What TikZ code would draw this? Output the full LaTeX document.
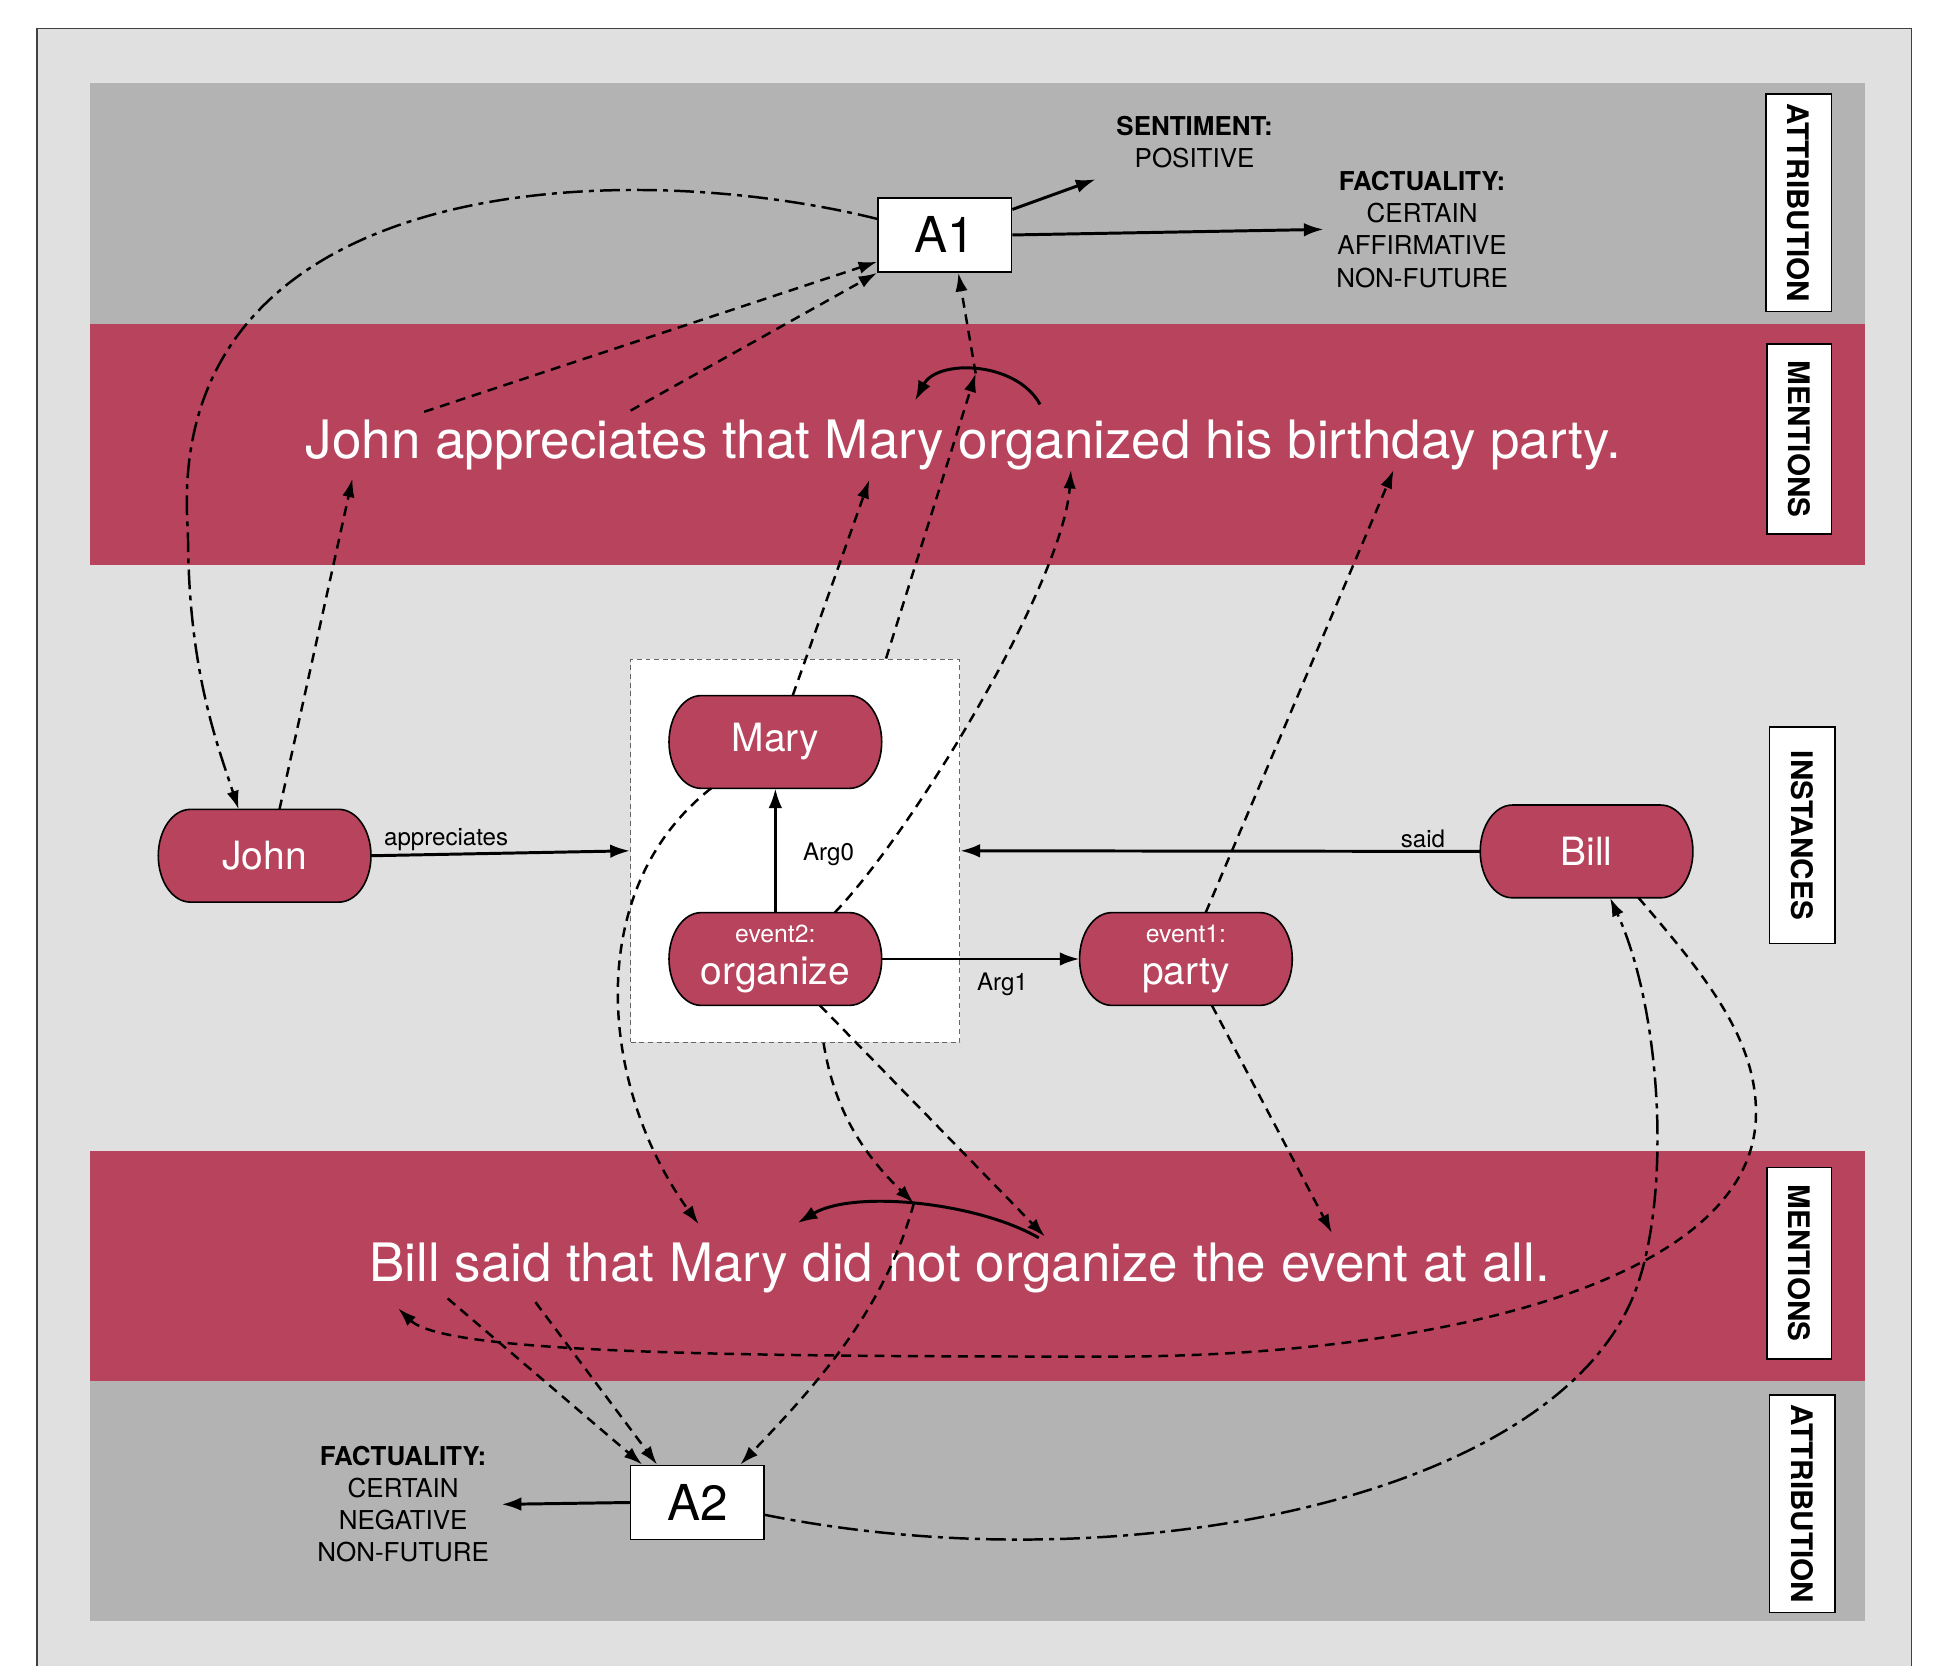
\documentclass[tikz,border=0pt]{standalone}
\usepackage{fontspec}
\setmainfont{TeX Gyre Heros}
\usetikzlibrary{arrows.meta,calc}
\definecolor{crim}{HTML}{B7435C}
\definecolor{lgray}{HTML}{E0E0E0}
\definecolor{dgray}{HTML}{B3B3B3}
\tikzset{
  inst/.style={minimum width=176pt, minimum height=79pt, inner sep=0pt, outer sep=-2pt,
    text=white, align=center, font=\fontsize{31.5}{34}\selectfont,
    path picture={\filldraw[fill=crim, draw=black, line width=1.3pt]
      ($(path picture bounding box.center)+(-60pt,37.5pt)$) -- ++(120pt,0pt)
      arc[start angle=90, end angle=-90, x radius=26pt, y radius=37.5pt]
      -- ++(-120pt,0pt)
      arc[start angle=270, end angle=90, x radius=26pt, y radius=37.5pt] -- cycle;}},
  attbox/.style={draw=black, line width=1.3pt, fill=white, minimum width=108pt,
    minimum height=60pt, inner sep=0pt, font=\fontsize{40}{44}\selectfont},
  sidelabel/.style={draw=black, line width=1.3pt, fill=white, rotate=-90, inner sep=0pt,
    font=\bfseries\fontsize{24}{28}\selectfont},
  grpbox/.style={draw=black!60, line width=1pt, dash pattern=on 4pt off 3pt, fill=white,
    minimum width=266pt, minimum height=310pt, inner sep=0pt},
  arr/.style={-{Latex[length=16pt,width=11pt]}, line width=2.4pt},
  dsh/.style={-{Latex[length=15pt,width=10pt]}, line width=2pt, dash pattern=on 8pt off 5.5pt},
  dd/.style={-{Latex[length=15pt,width=10pt]}, line width=2pt, dash pattern=on 16pt off 5pt on 4pt off 5pt},
  lbl/.style={font=\fontsize{19.5}{22}\selectfont, text=black, inner sep=2pt},
  props/.style={align=center, font=\fontsize{21}{26}\selectfont, inner sep=0pt},
  sent/.style={text=white, font=\fontsize{42.8}{48}\selectfont, inner sep=0pt}
}
\begin{document}
\begin{tikzpicture}[x=1pt,y=-1pt]
\useasboundingbox (0,0) rectangle (1568,1347);
\fill[white] (0,0) rectangle (1568,1347);
\fill[lgray] (30,23) rectangle (1546,1347);
\draw[line width=1pt, black!75] (30,1347) -- (30,23) -- (1546,23) -- (1546,1347);
% bands
\fill[dgray] (73,67) rectangle (1508,262);
\fill[crim] (73,262) rectangle (1508,457);
\fill[crim] (73,931) rectangle (1508,1117);
\fill[dgray] (73,1117) rectangle (1508,1311);
% side labels
\node[sidelabel, minimum width=176pt, minimum height=53pt] (labAttrTop) at (1454.5,164) {ATTRIBUTION};
\node[sidelabel, minimum width=154pt, minimum height=52pt] (labMentTop) at (1455,355) {MENTIONS};
\node[sidelabel, minimum width=175pt, minimum height=53pt] (labInst) at (1457.5,675.5) {INSTANCES};
\node[sidelabel, minimum width=155pt, minimum height=52pt] (labMentBot) at (1455,1021.5) {MENTIONS};
\node[sidelabel, minimum width=176pt, minimum height=53pt] (labAttrBot) at (1457.5,1216) {ATTRIBUTION};
% sentences
\node[sent, anchor=base] (sent1) at (779,371) {John appreciates that Mary organized his birthday party.};
\node[sent, anchor=base] (sent2) at (776,1036) {Bill said that Mary did not organize the event at all.};
% attribution boxes and properties
\node[attbox] (A1) at (764,190) {A1};
\node[attbox] (A2) at (564,1215) {A2};
\node[props] (sentiment) at (966,115) {\textbf{SENTIMENT:}\\POSITIVE};
\node[props] (fact1) at (1150,185.5) {\textbf{FACTUALITY:}\\CERTAIN\\AFFIRMATIVE\\NON-FUTURE};
\node[props] (fact2) at (326,1216.5) {\textbf{FACTUALITY:}\\CERTAIN\\NEGATIVE\\NON-FUTURE};
% instances
\node[grpbox] (grp) at (643,688) {};
\node[inst] (Mary) at (627,600) {Mary};
\node[inst] (John) at (214,692) {John};
\node[inst] (org) at (627,775.5) {{\fontsize{20}{22}\selectfont event2:}\\organize};
\node[inst] (party) at (959,775.5) {{\fontsize{20}{22}\selectfont event1:}\\party};
\node[inst] (Bill) at (1283,688.5) {Bill};
% mention anchor points
\coordinate (mJohn) at (285,387);
\coordinate (mMary) at (703,388);
\coordinate (mOrg) at (866,380);
\coordinate (mParty) at (1127,380);
\coordinate (mA) at (343,333);
\coordinate (mB) at (510,332);
\coordinate (arcTR) at (841,327);
\coordinate (arcTL) at (740,324);
\coordinate (arcTT) at (789,302);
\coordinate (sentTip) at (886,145);
\coordinate (nMary) at (565,990);
\coordinate (nOrg) at (845,1000);
\coordinate (nEvent) at (1077,997);
\coordinate (nBill) at (322,1058);
\coordinate (nA) at (362,1050);
\coordinate (nB) at (433,1053);
\coordinate (arcBR) at (840,1001);
\coordinate (arcBL) at (645,989);
\coordinate (arcBT) at (739,973);
% instance relations
\draw[arr] (John.east) -- node[lbl, above, pos=0.29] (lApp) {appreciates} (grp.west);
\draw[arr] (Bill.west) -- node[lbl, above, pos=0.11] (lSaid) {said} (grp.east);
\draw[arr] (org.north) -- node[lbl, pos=0.5, xshift=43pt, yshift=-3pt] (lArg0) {Arg0} (Mary.south);
\draw[arr] (org.east) -- node[lbl, below, pos=0.61, yshift=-8pt] (lArg1) {Arg1} (party.west);
% attribution properties
\draw[arr] ($(A1.north east)+(0,10)$) -- (sentTip);
\draw[arr] (A1.east) -- ($(fact1.west)+(-10,0)$);
\draw[arr] (A2.west) -- ($(fact2.east)+(10,0)$);
% top mentions
\draw[arr] (arcTR) .. controls (822,292) and (758,290) .. (arcTL);
\draw[dsh] ($(John.north)+(12,0)$) -- (mJohn);
\draw[dsh] ($(Mary.north)+(14,0)$) -- (mMary);
\draw[dsh] ($(org.north)+(48,0)$) .. controls (740,670) and (860,470) .. (mOrg);
\draw[dsh] ($(party.north)+(16,0)$) -- (mParty);
\draw[dsh] ($(grp.north east)+(-60,0)$) -- (arcTT);
\draw[dsh] (arcTT) -- ($(A1.south)+(11,0)$);
\draw[dsh] (mA) -- ($(A1.south west)+(0,-9)$);
\draw[dsh] (mB) -- (A1.south west);
\draw[dd] ($(A1.west)+(0,-13)$) .. controls (500,125) and (130,140) .. (152,430)
  .. controls (152,540) and (175,600) .. ($(John.north)+(-21,0)$);
% bottom mentions
\draw[arr] (arcBR) .. controls (790,972) and (690,962) .. (arcBL);
\draw[dsh] ($(Mary.south)+(-52,0)$) .. controls (470,720) and (485,880) .. (nMary);
\draw[dsh] ($(grp.south)+(23,0)$) .. controls (675,900) and (700,935) .. (arcBT);
\draw[dsh] ($(org.south)+(36,0)$) -- (nOrg);
\draw[dsh] ($(party.south)+(21,0)$) -- (nEvent);
\draw[dsh] (arcBT) .. controls (715,1060) and (660,1120) .. ($(A2.north east)+(-20,0)$);
\draw[dsh] (nA) -- ($(A2.north west)+(10,0)$);
\draw[dsh] (nB) -- ($(A2.north west)+(22,0)$);
\draw[dsh] ($(Bill.south)+(42,0)$) .. controls (1380,790) and (1420,840) .. (1420,900)
  .. controls (1420,1040) and (1150,1097) .. (900,1097)
  .. controls (600,1097) and (360,1095) .. (nBill);
\draw[dd] ($(A2.east)+(0,10)$) .. controls (900,1282) and (1250,1215) .. (1320,1050)
  .. controls (1352,975) and (1345,820) .. ($(Bill.south)+(19,0)$);
\end{tikzpicture}
\end{document}
